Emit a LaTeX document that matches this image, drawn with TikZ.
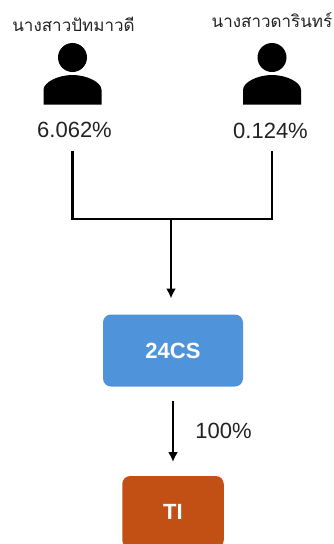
\documentclass[tikz,border=0pt]{standalone}
\usepackage{fontspec}
\setmainfont{Liberation Sans}
\newfontfamily\thaifont[Script=Thai]{Loma}
\usetikzlibrary{arrows.meta}
\definecolor{boxblue}{HTML}{4F94DB}
\definecolor{boxrust}{HTML}{C25014}
\definecolor{inkgrey}{HTML}{222222}
\tikzset{
  x=1pt,y=-1pt,
  namelabel/.style={inner sep=0pt,text=inkgrey,font=\thaifont\fontsize{17}{20}\selectfont},
  pct/.style={inner sep=0pt,text=inkgrey,font=\fontsize{22}{26}\selectfont},
  orgbox/.style={rounded corners=8pt,minimum height=72pt,inner sep=0pt,text=white,font=\bfseries\fontsize{22}{26}\selectfont},
  wire/.style={line width=2.6pt,draw=black},
  arrowwire/.style={wire,-{Latex[length=10pt,width=10pt]}},
}
\newcommand{\personicon}[1]{%
  \fill[black,shift={(#1,0)}] (0,57.5) circle[radius=14.5];
  \fill[black,shift={(#1,0)}] (-29,104.5) -- (-29,90) .. controls (-29,82) and (-14,75) .. (0,75) .. controls (14,75) and (29,82) .. (29,90) -- (29,104.5) -- cycle;
}
\begin{document}
\begin{tikzpicture}
\useasboundingbox (0,0) rectangle (333,544);
\personicon{72.5}
\personicon{272}
\node[namelabel] (nameL) at (73.5,24) {นางสาวปัทมาวดี};
\node[namelabel] (nameR) at (272,20) {นางสาวดารินทร์};
\node[pct] (pctL) at (74.5,130) {6.062\%};
\node[pct] (pctR) at (270.5,131) {0.124\%};
\node[orgbox,fill=boxblue,minimum width=140pt] (cs) at (173,350.5) {24CS};
\node[orgbox,fill=boxrust,minimum width=101.5pt] (ti) at (173,512) {TI};
\node[pct] (hundred) at (223.5,431) {100\%};
\coordinate (startL) at (72.7,151);
\coordinate (startR) at (272,151);
\coordinate (cornerL) at (72.7,219);
\coordinate (cornerR) at (272,219);
\coordinate (join) at (171,219);
\coordinate (joinEnd) at (171,298.5);
\coordinate (csOut) at (173,401);
\coordinate (tiIn) at (173,462);
\draw[wire,line cap=butt] (startL) -- (cornerL) -- (cornerR) -- (startR);
\draw[arrowwire] (join) -- (joinEnd);
\draw[arrowwire] (csOut) -- (tiIn);
\end{tikzpicture}
\end{document}
